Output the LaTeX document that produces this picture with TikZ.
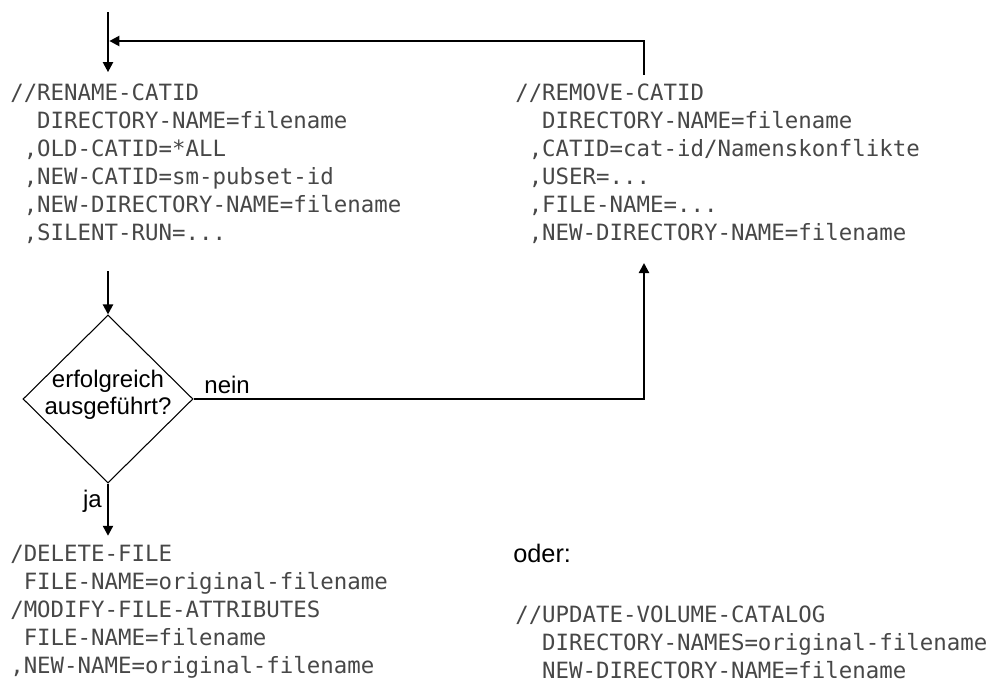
\documentclass[tikz,border=0pt]{standalone}
\usepackage{fontspec}
\setmainfont{Liberation Sans}
\newfontfamily\codefont{DejaVu Sans Mono}
\usetikzlibrary{shapes.geometric,arrows.meta,positioning,calc}

% one character of indentation in the command listings
\newcommand{\chpad}{\phantom{,}}
% listing lines, baseline on the first line
\newcommand{\listing}[1]{\begin{tabular}[t]{@{}l@{}}#1\end{tabular}}

\tikzset{
    code/.style={anchor=base west, inner xsep=0pt, inner ysep=4pt,
        text=black!72, font=\codefont\fontsize{16.8}{21}\selectfont},
    lbl/.style={font=\fontsize{18}{20}\selectfont, inner sep=0pt},
    arr/.style={line width=1.6pt, -{Triangle[length=7.5pt,width=7.5pt]}},
    decision/.style={diamond, draw, line width=0.8pt, aspect=1, inner sep=0pt,
        minimum width=127.5pt, minimum height=126pt}
}

\begin{document}
\begin{tikzpicture}[x=0.75pt, y=-0.75pt]
    \useasboundingbox (0,0) rectangle (989,682);

    % Entry and merge point
    \coordinate (start) at (108,12);
    \coordinate (merge) at (108,41);

    % Rename step
    \node[code] (rename) at (10,100) {\listing{//RENAME-CATID\\
        \chpad\chpad DIRECTORY-NAME=filename\\
        \chpad,OLD-CATID=*ALL\\
        \chpad,NEW-CATID=sm-pubset-id\\
        \chpad,NEW-DIRECTORY-NAME=filename\\
        \chpad,SILENT-RUN=...}};

    % Remove step
    \node[code] (remove) at (515,100) {\listing{//REMOVE-CATID\\
        \chpad\chpad DIRECTORY-NAME=filename\\
        \chpad,CATID=cat-id/Namenskonflikte\\
        \chpad,USER=...\\
        \chpad,FILE-NAME=...\\
        \chpad,NEW-DIRECTORY-NAME=filename}};

    % Decision
    \node[decision, label={[lbl, align=center, yshift=3pt]center:erfolgreich\\ausgeführt?}]
        (check) at (108,399) {};
    \coordinate (back) at (644,263);

    % Final steps
    \node[code] (delete) at (10,561) {\listing{/DELETE-FILE\\
        \chpad FILE-NAME=original-filename\\
        /MODIFY-FILE-ATTRIBUTES\\
        \chpad FILE-NAME=filename\\
        ,NEW-NAME=original-filename}};

    \node[lbl, anchor=base west, font=\fontsize{19}{20}\selectfont] (oder) at (513,562) {oder:};

    \node[code] (update) at (515,622) {\listing{//UPDATE-VOLUME-CATALOG\\
        \chpad\chpad DIRECTORY-NAMES=original-filename\\
        \chpad\chpad NEW-DIRECTORY-NAME=filename}};

    % Connectors
    \draw[arr, shorten >=2pt] (start) -- (start |- rename.north);
    \draw[arr, shorten <=13pt] (rename.south -| check.north) -- (check.north);
    \draw[arr] (check.east) -| (back);
    \draw[arr, shorten >=1pt] (back |- remove.north) |- (merge);
    \draw[arr] (check.south) -- (check.south |- delete.north);

    % Branch labels
    \node[lbl, anchor=base west] (nein) at ([xshift=8pt, yshift=4.5pt]check.east) {nein};
    \node[lbl, anchor=base east] (ja) at ([xshift=-4.5pt, yshift=-18pt]check.south) {ja};
\end{tikzpicture}
\end{document}
